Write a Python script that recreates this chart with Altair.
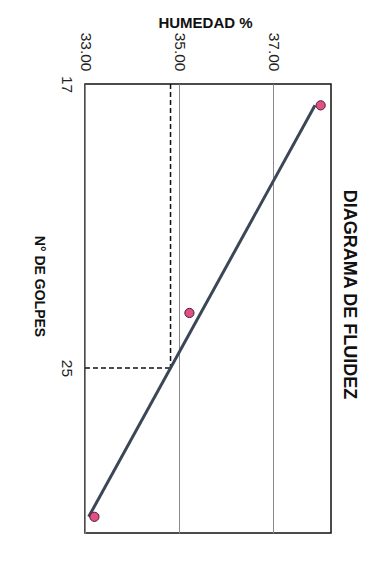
import altair as alt
import numpy as np
import pandas as pd

# Ensayo de límite líquido: número de golpes y humedad de cada punto
golpes = [17.5, 23.2, 30.6]
humedad = [38.01, 35.22, 33.20]

# Ejes
hum_domain = [33.0, 38.23]
hum_ticks = [33.0, 35.0, 37.0]
golpes_domain = [17.0, 31.28]
golpes_ticks = [17, 25]
golpes_ref = 25

# Recta de fluidez: humedad = a + b·ln(N)
b, a = np.polyfit(np.log(golpes), humedad, 1)
ll = a + b * np.log(golpes_ref)

pts = pd.DataFrame({"golpes": golpes, "humedad": humedad})
n_ends = [min(golpes), max(golpes)]
recta = pd.DataFrame({"golpes": n_ends, "humedad": [a + b * np.log(n) for n in n_ends]})
guias = pd.DataFrame({
    "h1": [ll, hum_domain[0]],
    "h2": [ll, ll],
    "n1": [golpes_domain[0], golpes_ref],
    "n2": [golpes_ref, golpes_ref],
})

font = "Liberation Sans"

x_scale = alt.Scale(domain=hum_domain, nice=False, zero=False)
y_scale = alt.Scale(type="log", domain=golpes_domain, nice=False, reverse=True)

x_axis = alt.Axis(
    orient="top", values=hum_ticks, format=".2f", labelAngle=90,
    labelAlign="right", labelBaseline="middle", labelPadding=13,
    labelFontSize=15.5, labelColor="#222", labelFont=font,
    ticks=False, domain=False, grid=True, gridColor="#8a8a8a", gridWidth=1,
    title="HUMEDAD %", titleFont=font, titleFontSize=15, titleFontWeight="bold",
    titleColor="#111", titleAngle=0, titleAlign="center", titleBaseline="middle",
    titleX=120, titleY=-62,
)
y_axis = alt.Axis(
    orient="left", values=golpes_ticks, labelAngle=90,
    labelAlign="center", labelBaseline="top", labelPadding=12,
    labelFontSize=15.5, labelColor="#222", labelFont=font,
    ticks=False, domain=False, grid=False,
    title="N° DE GOLPES", titleFont=font, titleFontSize=14, titleFontWeight="bold",
    titleColor="#111", titleAngle=90, titleAlign="center", titleBaseline="middle",
    titleX=-47, titleY=202,
)

base_x = alt.X("humedad:Q", scale=x_scale, axis=x_axis)
base_y = alt.Y("golpes:Q", scale=y_scale, axis=y_axis)

linea = alt.Chart(recta).mark_line(color="#3b4657", strokeWidth=3).encode(
    x=base_x, y=base_y, order="golpes:Q"
)

guia = alt.Chart(guias).mark_rule(color="#111", strokeWidth=1.5, strokeDash=[5, 3]).encode(
    x=alt.X("h1:Q", scale=x_scale), x2="h2:Q",
    y=alt.Y("n1:Q", scale=y_scale), y2="n2:Q",
)

puntos = alt.Chart(pts).mark_point(
    filled=True, fill="#e24f86", stroke="#4a1f2c", strokeWidth=1, size=85, opacity=1
).encode(x=base_x, y=base_y)

chart = alt.layer(guia, linea, puntos).properties(
    width=246,
    height=449,
    autosize=alt.AutoSizeParams(type="none"),
    padding={"left": 85, "top": 84, "right": 54, "bottom": 30},
    background="white",
    title=alt.TitleParams(
        "DIAGRAMA DE FLUIDEZ", orient="right", angle=90, baseline="bottom",
        anchor="middle", offset=-9, dx=-14, font=font, fontSize=18,
        fontWeight="bold", color="#111",
    ),
).configure_view(stroke="#111", strokeWidth=1.5)

chart.save("out.html", embed_options={"renderer": "svg", "actions": False})
